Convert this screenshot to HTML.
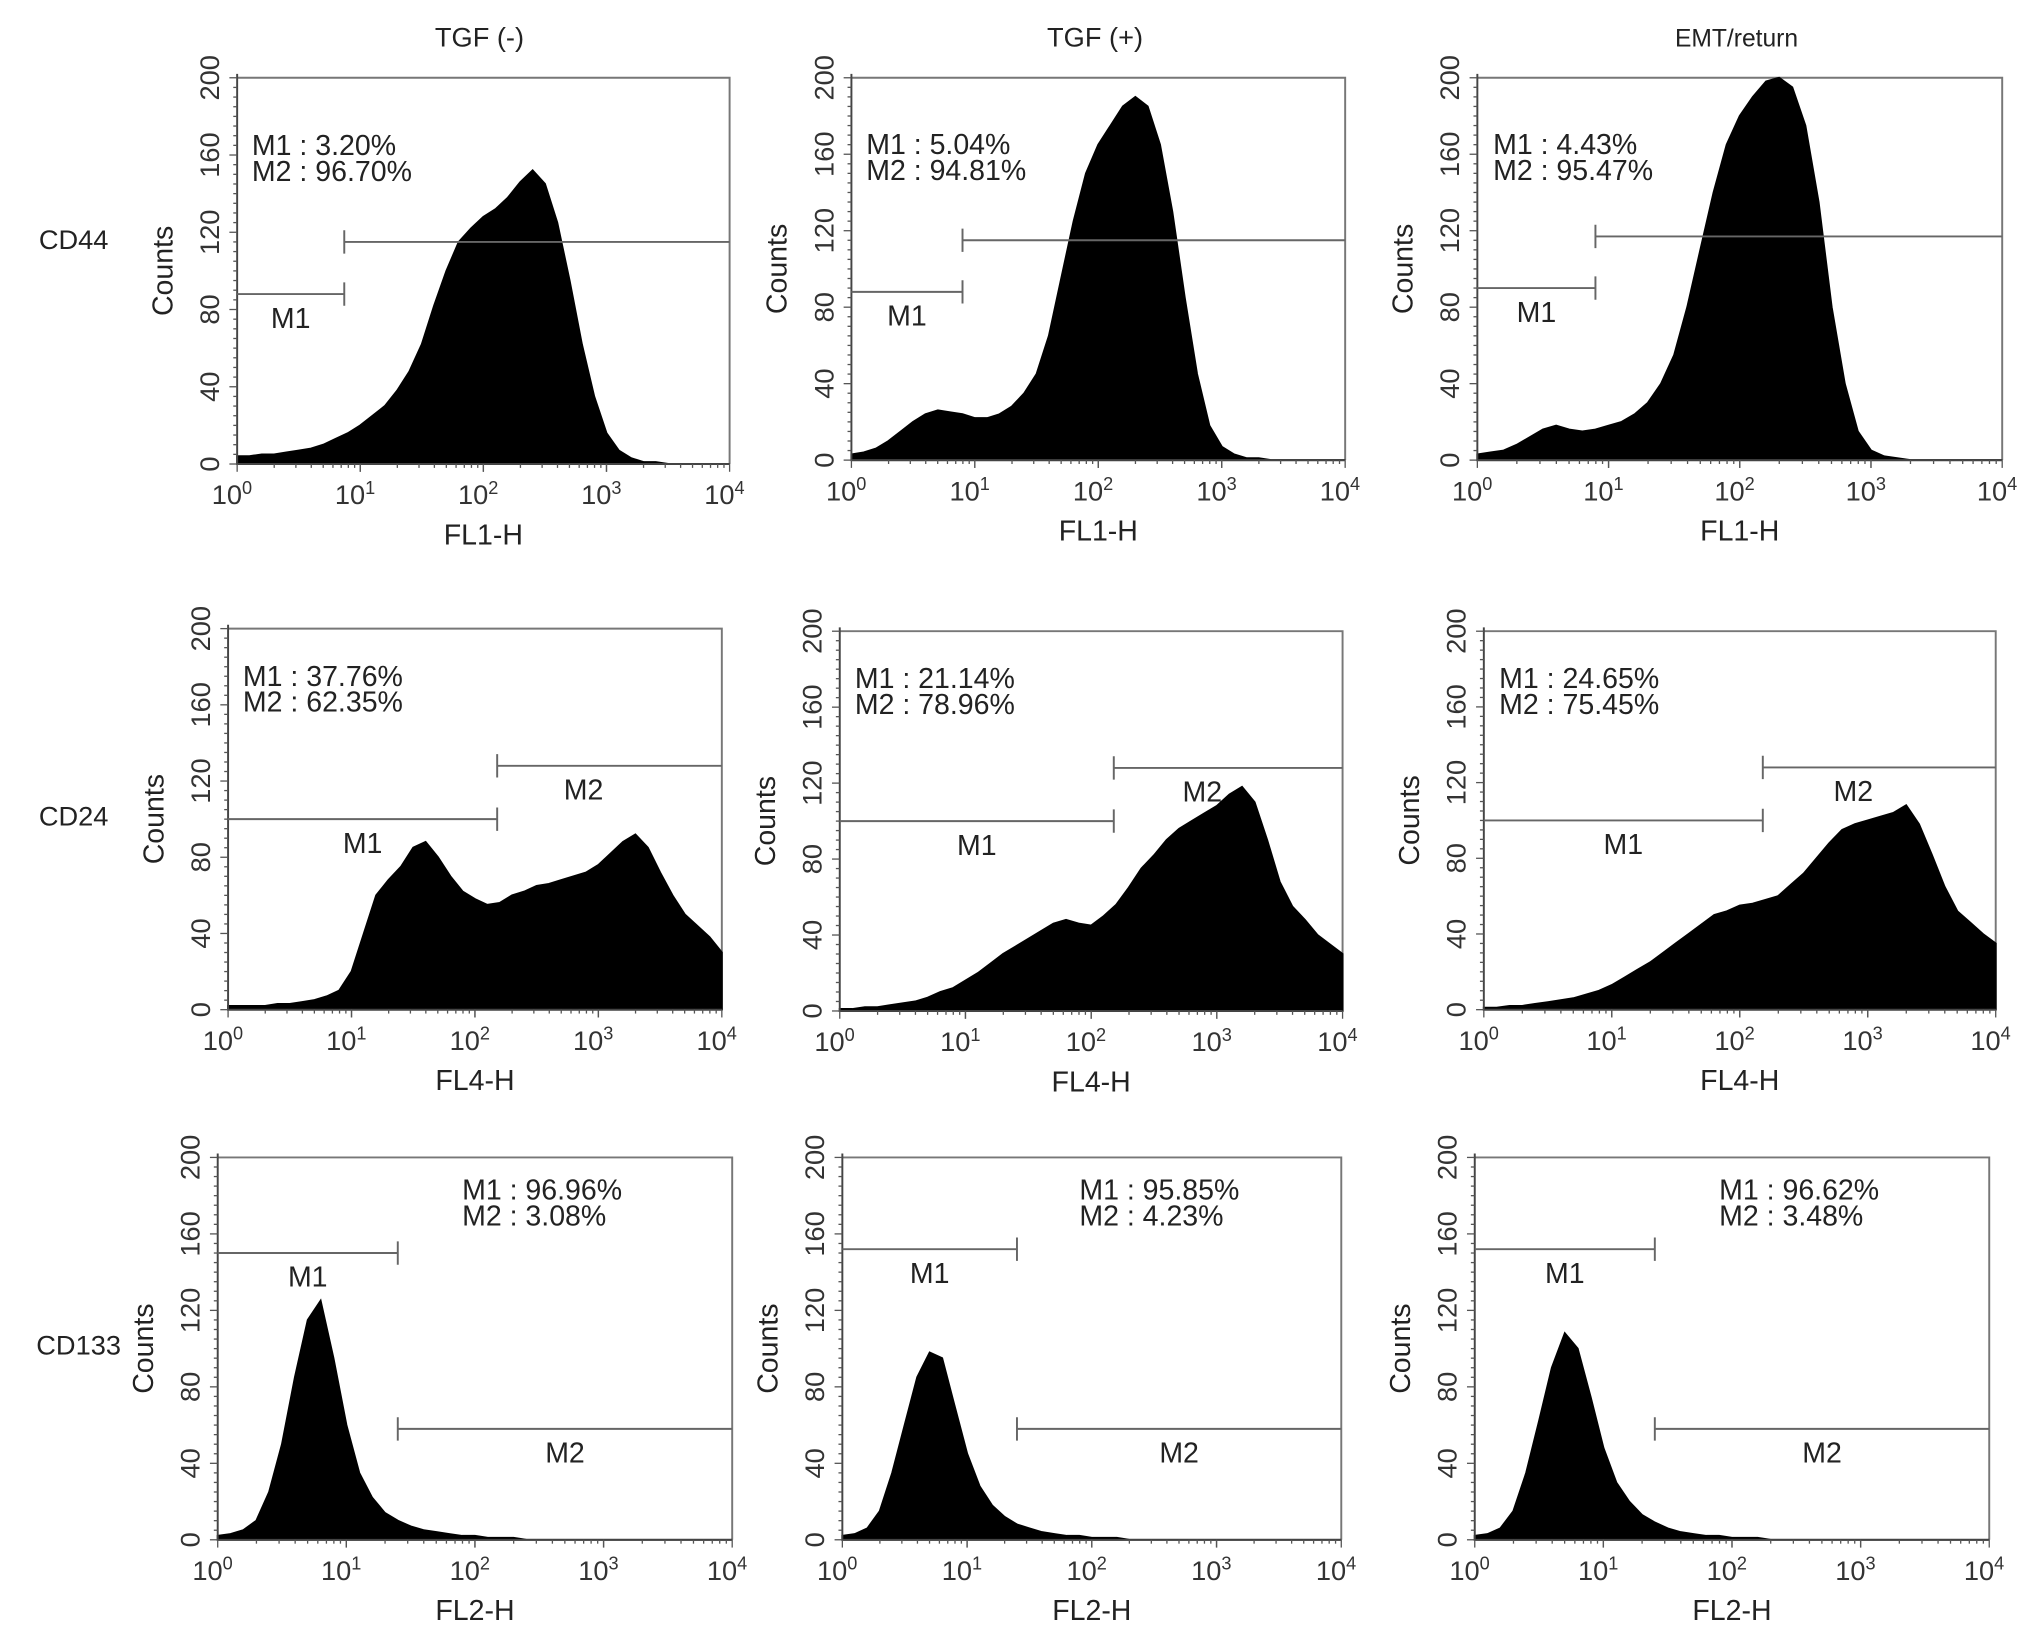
<!DOCTYPE html>
<html><head><meta charset="utf-8"><style>
html,body{margin:0;padding:0;background:#fff;}
svg{display:block;font-family:"Liberation Sans",Arial,sans-serif;}
</style></head><body>
<svg id="fig" width="2032" height="1637" viewBox="0 0 1568 1263" preserveAspectRatio="none" xmlns="http://www.w3.org/2000/svg">
<rect width="1568" height="1263" fill="#fff"/>
<text x="370" y="36" font-size="21" text-anchor="middle" fill="#222">TGF (-)</text>
<text x="845" y="36" font-size="21" text-anchor="middle" fill="#222">TGF (+)</text>
<text x="1340" y="36" font-size="19" text-anchor="middle" fill="#222">EMT/return</text>
<text x="30" y="192" font-size="21" fill="#222">CD44</text>
<text x="30" y="637" font-size="21" fill="#222">CD24</text>
<text x="28" y="1045" font-size="21" fill="#222">CD133</text>
<g id="panels"></g>
</svg>
<script>
// log10 positions 0.0 .. 4.0 step 0.1
const binStep = 0.1;
const yTicks = [0, 40, 80, 120, 160, 200];
const xTickExp = ['0', '1', '2', '3', '4'];

const cd44Minus = [4,4,5,5,6,7,8,10,13,16,20,25,30,38,48,62,82,100,115,122,128,132,138,146,152,145,125,95,62,35,16,7,3,1,1,0,0,0,0,0,0];
const cd44Plus  = [3,4,6,10,15,20,24,26,25,24,22,22,24,28,35,45,65,95,125,150,165,175,185,190,185,165,130,85,45,18,7,3,1,1,0,0,0,0,0,0,0];
const cd44Emt   = [3,4,5,8,12,16,18,16,15,16,18,20,24,30,40,55,80,110,140,165,180,190,198,200,195,175,135,80,40,15,5,2,1,0,0,0,0,0,0,0,0];
const cd24Minus = [2,2,2,2,3,3,4,5,7,10,20,40,60,68,75,85,88,80,70,62,58,55,56,60,62,65,66,68,70,72,76,82,88,92,85,72,60,50,44,38,30];
const cd24Plus  = [1,1,2,2,3,4,5,7,10,12,16,20,25,30,34,38,42,46,48,46,45,50,56,65,75,82,90,96,100,104,108,114,118,110,90,68,55,48,40,35,30];
const cd24Emt   = [1,1,2,2,3,4,5,6,8,10,13,17,21,25,30,35,40,45,50,52,55,56,58,60,66,72,80,88,95,98,100,102,104,108,98,82,65,52,46,40,35];
const cd133Minus= [2,3,5,10,25,50,85,115,125,95,60,35,22,14,10,7,5,4,3,2,2,1,1,1,0,0,0,0,0,0,0,0,0,0,0,0,0,0,0,0,0];
const cd133Plus = [2,3,6,15,35,60,85,98,95,70,45,28,18,12,8,6,4,3,2,2,1,1,1,0,0,0,0,0,0,0,0,0,0,0,0,0,0,0,0,0,0];
const cd133Emt  = [2,3,6,15,35,62,90,108,100,75,48,30,20,13,9,6,4,3,2,2,1,1,1,0,0,0,0,0,0,0,0,0,0,0,0,0,0,0,0,0,0];

const statsM1 = ['3.20%','5.04%','4.43%','37.76%','21.14%','24.65%','96.96%','95.85%','96.62%'];
const statsM2 = ['96.70%','94.81%','95.47%','62.35%','78.96%','75.45%','3.08%','4.23%','3.48%'];
const xLabels = ['FL1-H','FL1-H','FL1-H','FL4-H','FL4-H','FL4-H','FL2-H','FL2-H','FL2-H'];
// gate positions: [split log value, M1 count, M2 count]
const gateSplit = [0.87,0.9,0.9,2.18,2.18,2.18,1.4,1.4,1.4];
const gateM1 = [88,88,90,100,100,100,150,152,152];
const gateM2 = [115,115,117,128,128,128,58,58,58];

const series = [cd44Minus,cd44Plus,cd44Emt,cd24Minus,cd24Plus,cd24Emt,cd133Minus,cd133Plus,cd133Emt];
const frames = [
 [183,563,60,358],[657,1038,60,355],[1140,1545,60,355],
 [176,557,485,779],[648,1036,487,780],[1145,1540,487,779],
 [168,565,893,1188],[650,1035,893,1188],[1138,1535,893,1188]
];
const NS='http://www.w3.org/2000/svg';
const root=document.getElementById('panels');
function mk(tag,attrs,parent){const e=document.createElementNS(NS,tag);for(const k in attrs)e.setAttribute(k,attrs[k]);(parent||root).appendChild(e);return e;}

series.forEach((data,i)=>{
  const [L,R,T,B]=frames[i];
  const sx=v=>L+(R-L)*v/4;
  const sy=c=>B-(B-T)*c/200;
  const g=mk('g',{});
  
  
  const fr=mk('path',{d:`M${L} ${T}H${R}V${B}`,stroke:'#777',fill:'none','stroke-width':1.5},g);
  
  
  let d=`M${sx(0)} ${sy(0)}`;
  data.forEach((c,j)=>{d+=` L${sx(j*binStep).toFixed(1)} ${sy(c).toFixed(1)}`;});
  d+=` L${sx(4)} ${sy(0)} Z`;
  const h=mk('path',{d:d,fill:'#000',stroke:'#000','stroke-width':1.5},g);
  
  
  const ax=mk('path',{d:`M${L} ${T-3}V${B}H${R}`,stroke:'#444',fill:'none','stroke-width':1.5},g);
  
  
  for(let c=0;c<=200;c+=5){mk('line',{x1:L-(c%40===0?6:3),x2:L,y1:sy(c),y2:sy(c),stroke:'#555','stroke-width':1},g);}
  for(let dcd=0;dcd<4;dcd++){for(let k=1;k<=10;k++){const x=sx(dcd+Math.log10(k));mk('line',{x1:x,x2:x,y1:B,y2:B+(k===1||k===10?6:3),stroke:'#555','stroke-width':1},g);}}
  yTicks.forEach(t=>{
    const tl=mk('text',{x:L-14,y:sy(t),'font-size':21,fill:'#333','text-anchor':'middle',transform:`rotate(-90 ${L-14} ${sy(t)})`},g);
    
    
    tl.textContent=t;
  });
  xTickExp.forEach((e,k)=>{
    const tl=mk('text',{x:sx(k)-4,y:B+31,'font-size':21,fill:'#333','text-anchor':'middle'},g);
    
    
    tl.innerHTML='10<tspan dy="-8" font-size="14">'+e+'</tspan>';
  });
  const yt=mk('text',{x:L-50,y:(T+B)/2,'font-size':22,fill:'#222','text-anchor':'middle',transform:`rotate(-90 ${L-50} ${(T+B)/2})`},g);
  
  
  yt.textContent='Counts';
  const xt=mk('text',{x:(L+R)/2,y:B+62,'font-size':22,fill:'#222','text-anchor':'middle'},g);
  
  
  xt.textContent=xLabels[i];
  const s=sx(gateSplit[i]);
  const m1=mk('path',{d:`M${L} ${sy(gateM1[i])}H${s}M${s} ${sy(gateM1[i])-9}V${sy(gateM1[i])+9}`,stroke:'#666',fill:'none','stroke-width':1.5},g);
  
  
  const m2=mk('path',{d:`M${s} ${sy(gateM2[i])}H${R}M${s} ${sy(gateM2[i])-9}V${sy(gateM2[i])+9}`,stroke:'#666',fill:'none','stroke-width':1.5},g);
  
  
  const l1=mk('text',{x:(L+s)/2,y:sy(gateM1[i])+26,'font-size':22,fill:'#222','text-anchor':'middle'},g);
  
  
  l1.textContent='M1';
  if(i>=3){
    const l2=mk('text',{x:(s+R)/2+(i<6?-20:0),y:sy(gateM2[i])+26,'font-size':22,fill:'#222','text-anchor':'middle'},g);
    
    
    l2.textContent='M2';
  }
  const tx= i<6 ? sx(0.12) : sx(1.9);
  const ty= i<6 ? sy(i<3?160:170) : sy(178);
  const t1=mk('text',{x:tx,y:ty,'font-size':22,fill:'#222'},g);
  
  
  t1.textContent='M1 : '+statsM1[i];
  const t2=mk('text',{x:tx,y:ty+20,'font-size':22,fill:'#222'},g);
  
  
  t2.textContent='M2 : '+statsM2[i];
});
</script>
</body></html>
